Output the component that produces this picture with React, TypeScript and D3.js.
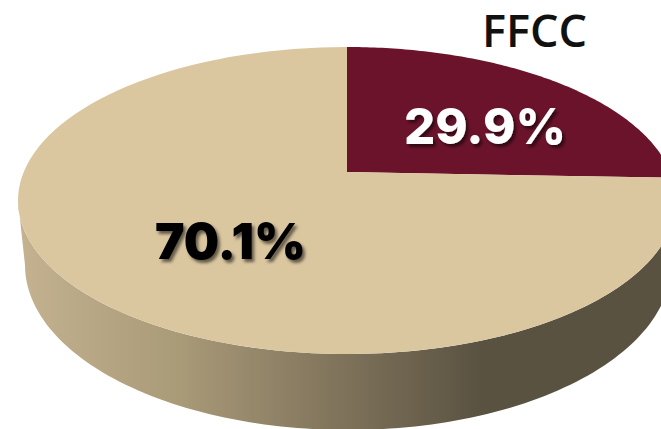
// PieFFCC.tsx - perspective 3D pie, FFCC share
import React from "react";
import * as d3 from "d3";

const sliceNames = ["FFCC", "Other"];
const sliceValues = [29.9, 70.1];
const sliceLabels = ["29.9%", "70.1%"];

const width = 661;
const height = 429;

// top face and lower rim of the disc
const top = { cx: 347, cy: 200.5, rx: 329, ry: 153.5 };
const rim = { cx: 348, cy: 265, rx: 323, ry: 165 };
const apex: [number, number] = [347, 172];

const colors: Record<string, string> = { FFCC: "#6b132b", Other: "#dac69f" };
const labelFill: Record<string, string> = { FFCC: "#ffffff", Other: "#000000" };
const labelBox: Record<string, { x: number; y: number; w: number }> = {
	FFCC: { x: 404, y: 144, w: 162 },
	Other: { x: 155, y: 259, w: 151 },
};

type Ell = typeof top;
const onEllipse = (e: Ell, t: number): [number, number] => [
	e.cx + e.rx * Math.sin(t),
	e.cy - e.ry * Math.cos(t),
];
const sweep = (e: Ell, a: number, b: number) =>
	d3.range(0, 121).map((i) => onEllipse(e, a + ((b - a) * i) / 120));

export default function App() {
	const pie = d3.pie<number>().sort(null);
	const arcs = pie(sliceValues);
	const line = d3.line();

	// the view foreshortens the wedge: pie angle -> angle on the drawn ellipse
	const view = d3
		.scaleLinear()
		.domain([0, arcs[0].endAngle, 2 * Math.PI])
		.range([0, (81.5 * Math.PI) / 180, 2 * Math.PI]);

	const wall =
		line([
			...sweep(top, Math.PI / 2, (3 * Math.PI) / 2),
			...sweep(rim, (3 * Math.PI) / 2, Math.PI / 2),
		]) + "Z";

	return (
		<svg
			width={width}
			height={height}
			style={{ position: "absolute", left: 0, top: 0, background: "#fff" }}
		>
			<defs>
				<linearGradient id="wall" gradientUnits="userSpaceOnUse" x1={18} x2={661} y1={0} y2={0}>
					<stop offset="0" stopColor="#c4b290" />
					<stop offset="0.25" stopColor="#a99a78" />
					<stop offset="0.5" stopColor="#7f735b" />
					<stop offset="0.72" stopColor="#5a5241" />
					<stop offset="1" stopColor="#5a5241" />
				</linearGradient>
				<filter id="shadow" x="-10%" y="-20%" width="125%" height="150%">
					<feDropShadow dx="2.5" dy="3" stdDeviation="1.8" floodColor="#000" floodOpacity="0.55" />
				</filter>
			</defs>

			<path d={wall} fill="url(#wall)" />

			{arcs.map((d, i) => (
				<path
					key={sliceNames[i]}
					d={line([apex, ...sweep(top, view(d.startAngle), view(d.endAngle))]) + "Z"}
					fill={colors[sliceNames[i]]}
				/>
			))}

			{sliceLabels.map((label, i) => {
				const box = labelBox[sliceNames[i]];
				return (
					<text
						key={label}
						x={box.x}
						y={box.y}
						textLength={box.w}
						lengthAdjust="spacingAndGlyphs"
						fontFamily="Inter, sans-serif"
						fontWeight={i === 0 ? 800 : 900}
						fontSize={50}
						fill={labelFill[sliceNames[i]]}
						filter="url(#shadow)"
					>
						{label}
					</text>
				);
			})}

			<text
				x={482}
				y={47}
				textLength={105}
				lengthAdjust="spacingAndGlyphs"
				fontFamily="'Open Sans', sans-serif"
				fontWeight={600}
				fontSize={46}
				fill="#111"
			>
				{sliceNames[0]}
			</text>
		</svg>
	);
}
